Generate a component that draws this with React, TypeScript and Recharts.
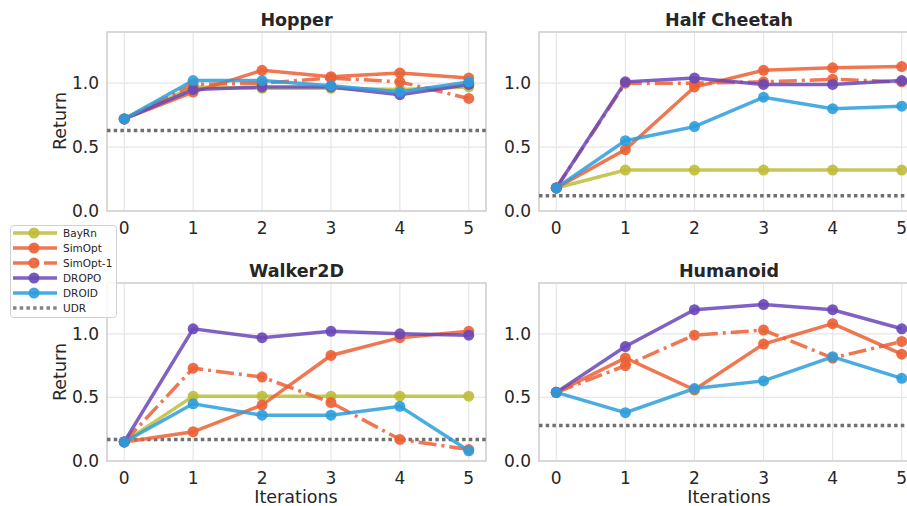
import { CartesianGrid, Line, LineChart, ReferenceArea, ReferenceLine, XAxis, YAxis } from 'recharts';

const iterations = [0, 1, 2, 3, 4, 5];
const yTicks = [0, 0.5, 1.0];

const hopperBayRn = [0.72, 0.97, 0.96, 0.96, 0.95, 0.97];
const hopperSimOpt = [0.72, 0.93, 1.1, 1.05, 1.08, 1.04];
const hopperSimOpt1 = [0.72, 0.99, 1.0, 1.04, 1.01, 0.88];
const hopperDropo = [0.72, 0.95, 0.97, 0.97, 0.91, 0.99];
const hopperDroid = [0.72, 1.02, 1.02, 0.98, 0.93, 1.01];
const hopperUdr = 0.63;

const cheetahBayRn = [0.18, 0.32, 0.32, 0.32, 0.32, 0.32];
const cheetahSimOpt = [0.18, 0.48, 0.97, 1.1, 1.12, 1.13];
const cheetahSimOpt1 = [0.18, 1.0, 1.0, 1.01, 1.03, 1.01];
const cheetahDropo = [0.18, 1.01, 1.04, 0.99, 0.99, 1.02];
const cheetahDroid = [0.18, 0.55, 0.66, 0.89, 0.8, 0.82];
const cheetahUdr = 0.12;

const walkerBayRn = [0.15, 0.51, 0.51, 0.51, 0.51, 0.51];
const walkerSimOpt = [0.15, 0.23, 0.44, 0.83, 0.97, 1.02];
const walkerSimOpt1 = [0.15, 0.73, 0.66, 0.46, 0.17, 0.09];
const walkerDropo = [0.15, 1.04, 0.97, 1.02, 1.0, 0.99];
const walkerDroid = [0.15, 0.45, 0.36, 0.36, 0.43, 0.08];
const walkerUdr = 0.17;

const humanoidSimOpt = [0.54, 0.81, 0.56, 0.92, 1.08, 0.84];
const humanoidSimOpt1 = [0.54, 0.75, 0.99, 1.03, 0.81, 0.94];
const humanoidDropo = [0.54, 0.9, 1.19, 1.23, 1.19, 1.04];
const humanoidDroid = [0.54, 0.38, 0.57, 0.63, 0.82, 0.65];
const humanoidUdr = 0.28;

const methods = [
  { key: 'BayRn', color: '#bcbd3a', dash: undefined },
  { key: 'SimOpt', color: '#ec5f33', dash: undefined },
  { key: 'SimOpt-1', color: '#ec5f33', dash: '18 5 3 5' },
  { key: 'DROPO', color: '#6947b8', dash: undefined },
  { key: 'DROID', color: '#2b9ddd', dash: undefined },
];
const udrColor = '#707070';
const textColor = '#262626';
const font = '"DejaVu Sans", sans-serif';

type Series = Record<string, number[]>;

function buildRows(series: Series) {
  return iterations.map((it, i) => {
    const row: Record<string, number> = { iter: it };
    Object.entries(series).forEach(([k, v]) => {
      row[k] = v[i];
    });
    return row;
  });
}

const panels = [
  {
    title: 'Hopper',
    series: { BayRn: hopperBayRn, SimOpt: hopperSimOpt, 'SimOpt-1': hopperSimOpt1, DROPO: hopperDropo, DROID: hopperDroid },
    udr: hopperUdr,
    box: { l: 107, t: 32, r: 486, b: 211 },
  },
  {
    title: 'Half Cheetah',
    series: { BayRn: cheetahBayRn, SimOpt: cheetahSimOpt, 'SimOpt-1': cheetahSimOpt1, DROPO: cheetahDropo, DROID: cheetahDroid },
    udr: cheetahUdr,
    box: { l: 539, t: 32, r: 919, b: 211 },
  },
  {
    title: 'Walker2D',
    series: { BayRn: walkerBayRn, SimOpt: walkerSimOpt, 'SimOpt-1': walkerSimOpt1, DROPO: walkerDropo, DROID: walkerDroid },
    udr: walkerUdr,
    box: { l: 107, t: 283, r: 486, b: 461 },
  },
  {
    title: 'Humanoid',
    series: { SimOpt: humanoidSimOpt, 'SimOpt-1': humanoidSimOpt1, DROPO: humanoidDropo, DROID: humanoidDroid },
    udr: humanoidUdr,
    box: { l: 539, t: 283, r: 919, b: 461 },
  },
];

const Y_W = 60;
const X_H = 30;
const M = 10;

function Panel({ series, udr, box }: { series: Series; udr: number; box: { l: number; t: number; r: number; b: number } }) {
  const width = box.r - box.l + Y_W + M;
  const height = box.b - box.t + M + X_H;
  const rows = buildRows(series);
  return (
    <div style={{ position: 'absolute', left: box.l - Y_W, top: box.t - M, width, height }}>
      <LineChart width={width} height={height} data={rows} margin={{ top: M, right: M, left: 0, bottom: 0 }}>
        <CartesianGrid stroke="#e6e6e6" strokeWidth={1.2} />
        <ReferenceArea x1={-0.25} x2={5.25} y1={0} y2={1.4} stroke="#cfcfcf" strokeWidth={1.5} fill="none" />
        <XAxis
          dataKey="iter"
          type="number"
          domain={[-0.25, 5.25]}
          ticks={iterations}
          axisLine={false}
          tickLine={false}
          tickSize={0}
          tickMargin={11}
          height={X_H}
          tick={{ fontSize: 17, fill: textColor, fontFamily: font }}
        />
        <YAxis
          type="number"
          domain={[0, 1.4]}
          ticks={yTicks}
          axisLine={false}
          tickLine={false}
          tickSize={0}
          tickMargin={8}
          width={Y_W}
          tickFormatter={(v: number) => v.toFixed(1)}
          tick={{ fontSize: 17, fill: textColor, fontFamily: font }}
        />
        <ReferenceLine y={udr} stroke={udrColor} strokeWidth={3.5} strokeDasharray="3.5 3.2" />
        {methods
          .filter((m) => series[m.key])
          .map((m) => (
            <Line
              key={m.key}
              dataKey={m.key}
              type="linear"
              stroke={m.color}
              strokeWidth={3.5}
              strokeOpacity={0.85}
              strokeDasharray={m.dash}
              dot={{ r: 5.5, fill: m.color, fillOpacity: 0.9, stroke: 'none', strokeDasharray: '' }}
              activeDot={false}
              isAnimationActive={false}
            />
          ))}
      </LineChart>
    </div>
  );
}

function Overlay() {
  const legendItems = [...methods.map((m) => ({ ...m, marker: true })), { key: 'UDR', color: udrColor, dash: '3.5 3.2', marker: false }];
  return (
    <svg width={907} height={506} style={{ position: 'absolute', left: 0, top: 0, pointerEvents: 'none' }} fontFamily={font}>
      {panels.map((p) => (
        <text
          key={p.title}
          x={(p.box.l + p.box.r) / 2}
          y={p.box.t - 12}
          textAnchor="middle"
          dominantBaseline="central"
          fontSize={17.5}
          fontWeight="bold"
          fill={textColor}
        >
          {p.title}
        </text>
      ))}
      <text transform="translate(60,121) rotate(-90)" textAnchor="middle" dominantBaseline="central" fontSize={17.5} fill={textColor}>
        Return
      </text>
      <text transform="translate(60,372) rotate(-90)" textAnchor="middle" dominantBaseline="central" fontSize={17.5} fill={textColor}>
        Return
      </text>
      <text x={296} y={497} textAnchor="middle" dominantBaseline="central" fontSize={17.5} fill={textColor}>
        Iterations
      </text>
      <text x={729} y={497} textAnchor="middle" dominantBaseline="central" fontSize={17.5} fill={textColor}>
        Iterations
      </text>
      <rect x={10.5} y={225.5} width={106} height={92} rx={3} fill="#ffffff" fillOpacity={0.85} stroke="#d0d0d0" />
      {legendItems.map((it, i) => {
        const y = 233 + i * 15;
        return (
          <g key={it.key}>
            <line x1={13} x2={57} y1={y} y2={y} stroke={it.color} strokeWidth={3.5} strokeOpacity={0.85} strokeDasharray={it.dash} />
            {it.marker && <circle cx={34} cy={y} r={5.5} fill={it.color} fillOpacity={0.9} />}
            <text x={63} y={y} dominantBaseline="central" fontSize={10.5} fill={textColor}>
              {it.key}
            </text>
          </g>
        );
      })}
    </svg>
  );
}

export default function App() {
  return (
    <div style={{ position: 'fixed', left: 0, top: 0, width: 907, height: 506, overflow: 'hidden', background: '#ffffff' }}>
      {panels.map((p) => (
        <Panel key={p.title} series={p.series} udr={p.udr} box={p.box} />
      ))}
      <Overlay />
    </div>
  );
}
